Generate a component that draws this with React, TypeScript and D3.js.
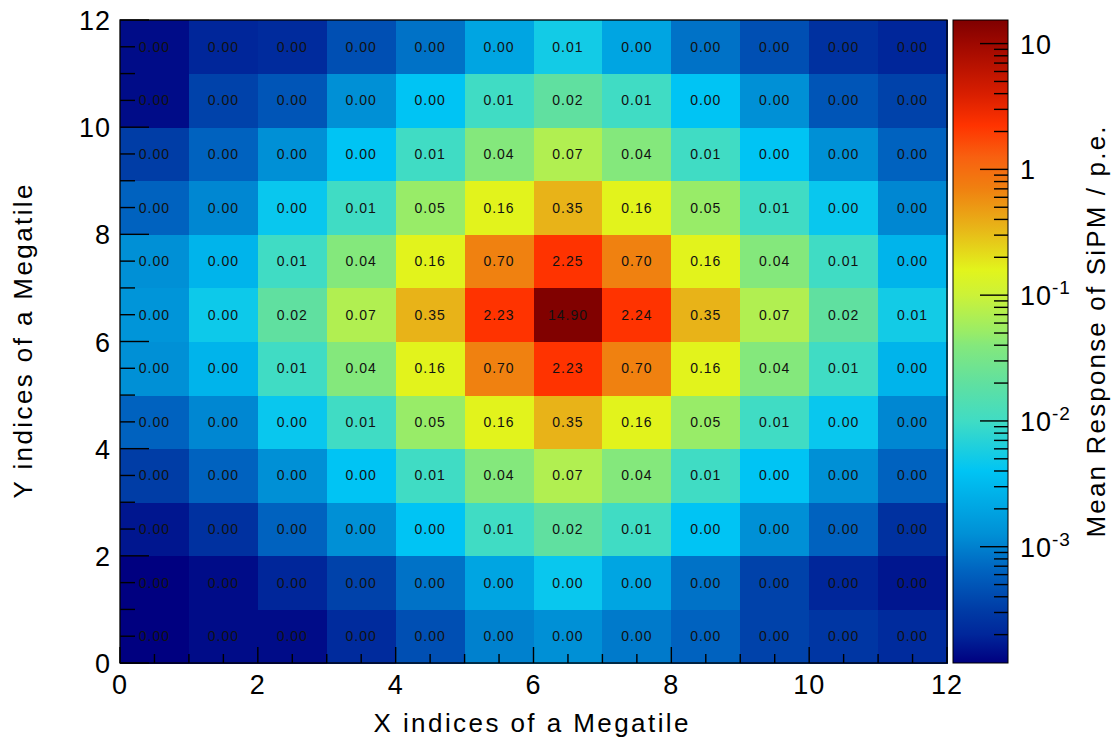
import * as d3 from 'd3';

// bin values, one array per Y bin (index = X bin 0..11)
const row11 = [0.00014, 0.0002, 0.00022, 0.00045, 0.0008, 0.002, 0.0052, 0.002, 0.0008, 0.00045, 0.00025, 0.0002];
const row10 = [0.00014, 0.00035, 0.0005, 0.00125, 0.004, 0.01, 0.02, 0.01, 0.004, 0.00125, 0.0005, 0.00035];
const row9 = [0.00032, 0.00063, 0.00125, 0.004, 0.01, 0.04, 0.07, 0.04, 0.01, 0.004, 0.00125, 0.00063];
const row8 = [0.00063, 0.0011, 0.0045, 0.01, 0.05, 0.16, 0.35, 0.16, 0.05, 0.01, 0.0045, 0.0011];
const row7 = [0.00125, 0.0028, 0.01, 0.04, 0.16, 0.7, 2.25, 0.7, 0.16, 0.04, 0.01, 0.0028];
const row6 = [0.0014, 0.0048, 0.02, 0.07, 0.35, 2.23, 14.9, 2.24, 0.35, 0.07, 0.02, 0.0052];
const row5 = [0.00125, 0.0028, 0.01, 0.04, 0.16, 0.7, 2.23, 0.7, 0.16, 0.04, 0.01, 0.0028];
const row4 = [0.00063, 0.0011, 0.0045, 0.01, 0.05, 0.16, 0.35, 0.16, 0.05, 0.01, 0.0045, 0.0011];
const row3 = [0.00032, 0.00063, 0.00125, 0.004, 0.01, 0.04, 0.07, 0.04, 0.01, 0.004, 0.00125, 0.00063];
const row2 = [0.00016, 0.00025, 0.00063, 0.00125, 0.004, 0.01, 0.02, 0.01, 0.004, 0.00125, 0.00063, 0.00025];
const row1 = [0.00012, 0.00014, 0.0002, 0.00035, 0.0008, 0.002, 0.0045, 0.002, 0.0008, 0.00035, 0.0002, 0.00016];
const row0 = [0.00012, 0.00014, 0.00014, 0.00022, 0.00045, 0.001, 0.00125, 0.0009, 0.00063, 0.00035, 0.00028, 0.00022];
const rows = [row0, row1, row2, row3, row4, row5, row6, row7, row8, row9, row10, row11];

const axisTicks = [0, 2, 4, 6, 8, 10, 12];
const zMajorTicks = [10, 1, 0.1, 0.01, 0.001];
const zMajorBase = ['10', '1', '10', '10', '10'];
const zMajorExp = ['', '', '-1', '-2', '-3'];

const zMin = 1.19e-4;
const zMax = 15.4;

// rainbow palette sampled from the colour bar (log10 positions)
const paletteLog = [-3.923, -3.7, -3.5, -3.2, -2.9, -2.4, -2.0, -1.7, -1.4, -1.3, -1.0, -0.8, -0.46, -0.15, 0.1, 0.35, 0.6, 1.0, 1.188];
const paletteHex = ['#000080', '#00269a', '#003ca6', '#0062bf', '#0090d6', '#00c4f4', '#40dcc4', '#60e0a0', '#84e87c', '#98ec68', '#ccf238', '#e2f41c', '#e8b418', '#f08010', '#f86010', '#ff3300', '#d81e00', '#9e0800', '#7f0000'];

const W = 1116;
const H = 743;
const plot = { left: 120, right: 947, top: 20, bottom: 663 };
const bar = { left: 953, right: 1008 };
const font = 'Liberation Sans, Arial, Helvetica, sans-serif';

export default function App() {
  const x = d3.scaleLinear().domain([0, 12]).range([plot.left, plot.right]);
  const y = d3.scaleLinear().domain([0, 12]).range([plot.bottom, plot.top]);
  const z = d3.scaleLog().domain([zMin, zMax]).range([plot.bottom, plot.top]);
  const color = d3
    .scaleLinear<string>()
    .domain(paletteLog)
    .range(paletteHex)
    .interpolate(d3.interpolateRgb)
    .clamp(true);

  const lmin = Math.log10(zMin);
  const lmax = Math.log10(zMax);

  const halfTicks = d3.range(0, 12.01, 0.5);
  const zTicks = z.ticks().filter((t) => t >= zMin && t <= zMax);

  return (
    <svg
      width={W}
      height={H}
      style={{ position: 'absolute', left: 0, top: 0, background: '#fff' }}
      fontFamily={font}
    >
      <defs>
        <linearGradient id="zgrad" x1="0" y1="1" x2="0" y2="0">
          {paletteLog.map((l, i) => (
            <stop key={i} offset={(l - lmin) / (lmax - lmin)} stopColor={paletteHex[i]} />
          ))}
        </linearGradient>
      </defs>

      {/* cells */}
      <g shapeRendering="crispEdges">
        {rows.map((row, j) =>
          row.map((v, i) => (
            <rect
              key={`${i}-${j}`}
              x={x(i)}
              y={y(j + 1)}
              width={x(i + 1) - x(i) + 0.5}
              height={y(j) - y(j + 1) + 0.5}
              fill={color(Math.log10(v))}
            />
          ))
        )}
      </g>

      {/* cell labels */}
      {rows.map((row, j) =>
        row.map((v, i) => (
          <text
            key={`t${i}-${j}`}
            x={x(i + 0.5)}
            y={y(j + 0.5) + 5}
            textAnchor="middle"
            fontSize={14}
            letterSpacing={1}
            fill="#111"
          >
            {v.toFixed(2)}
          </text>
        ))
      )}

      {/* frame */}
      <rect
        x={plot.left}
        y={plot.top}
        width={plot.right - plot.left}
        height={plot.bottom - plot.top}
        fill="none"
        stroke="#000"
        strokeWidth={1.3}
      />

      {/* y ticks */}
      {halfTicks.map((t) => {
        const major = Math.abs(t % 2) < 1e-9;
        return (
          <line
            key={`yt${t}`}
            x1={plot.left}
            x2={plot.left + (major ? 29 : 15)}
            y1={y(t)}
            y2={y(t)}
            stroke="#000"
            strokeWidth={1.4}
          />
        );
      })}
      {/* x ticks */}
      {halfTicks.map((t) => {
        const major = Math.abs(t % 2) < 1e-9;
        return (
          <line
            key={`xt${t}`}
            x1={x(t)}
            x2={x(t)}
            y1={plot.bottom}
            y2={plot.bottom - (major ? 16 : 9)}
            stroke="#000"
            strokeWidth={1.4}
          />
        );
      })}

      {axisTicks.map((t) => (
        <text key={`yl${t}`} x={111} y={y(t) + 10} textAnchor="end" fontSize={27} letterSpacing={1}>
          {t}
        </text>
      ))}
      {axisTicks.map((t) => (
        <text key={`xl${t}`} x={x(t)} y={plot.bottom + 31} textAnchor="middle" fontSize={27} letterSpacing={1}>
          {t}
        </text>
      ))}

      {/* axis titles */}
      <text x={531} y={732} textAnchor="middle" fontSize={26} textLength={315}>
        X indices of a Megatile
      </text>
      <text
        transform={`translate(32,${(plot.top + plot.bottom) / 2}) rotate(-90)`}
        textAnchor="middle"
        fontSize={26}
        textLength={314}
      >
        Y indices of a Megatile
      </text>

      {/* colour bar */}
      <rect
        x={bar.left}
        y={plot.top}
        width={bar.right - bar.left}
        height={plot.bottom - plot.top}
        fill="url(#zgrad)"
        stroke="#000"
        strokeWidth={1}
      />
      {zTicks.map((t) => {
        const major = Math.abs(Math.log10(t) - Math.round(Math.log10(t))) < 1e-6;
        return (
          <line
            key={`zt${t}`}
            x1={bar.right}
            x2={bar.right - (major ? 28 : 14)}
            y1={z(t)}
            y2={z(t)}
            stroke="#000"
            strokeWidth={1.4}
          />
        );
      })}
      {zMajorTicks.map((t, i) => (
        <text key={`zl${t}`} x={1020} y={z(t) + 10} fontSize={27} letterSpacing={1}>
          {zMajorBase[i]}
          {zMajorExp[i] && (
            <tspan dy={-11} fontSize={19}>
              {zMajorExp[i]}
            </tspan>
          )}
        </text>
      ))}
      <text
        transform={`translate(1105,332) rotate(-90)`}
        textAnchor="middle"
        fontSize={26}
        textLength={411}
      >
        Mean Response of SiPM / p.e.
      </text>
    </svg>
  );
}
